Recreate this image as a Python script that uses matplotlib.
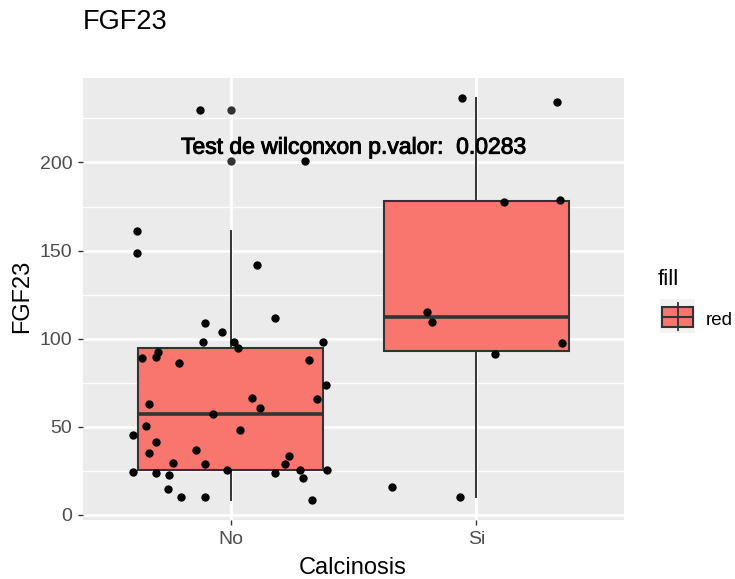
import numpy as np
import matplotlib
matplotlib.use("Agg")
import matplotlib.pyplot as plt
import matplotlib.patheffects as pe
from matplotlib.patches import Rectangle

plt.rcParams['font.family'] = ['Liberation Sans', 'DejaVu Sans']

# FGF23 values per calcinosis group, with horizontal jitter offsets of each point
groups = ["No", "Si"]
fgf23_no = [108.9, 111.5, 103.8, 98.3, 98.3, 94.9, 98.3, 88.8, 89.5, 92.4,
            86.1, 87.8, 73.9, 63.2, 66.6, 65.9, 60.6, 57.0, 50.7, 48.3,
            45.6, 41.1, 35.0, 36.9, 33.5, 29.0, 29.7, 29.0, 24.4, 23.6,
            22.9, 25.3, 23.6, 25.3, 21.0, 25.3, 14.8, 10.4, 10.4, 8.5,
            229.9, 200.6, 161.1, 148.6, 141.6]
jitter_no = [-0.105, 0.179, -0.034, -0.113, 0.015, 0.031, 0.374, -0.359, -0.305, -0.293,
             -0.209, 0.320, 0.387, -0.332, 0.087, 0.352, 0.121, -0.073, -0.344, 0.037,
             -0.396, -0.305, -0.332, -0.139, 0.237, 0.223, -0.234, -0.105, -0.396, -0.305,
             -0.249, -0.016, 0.180, 0.282, 0.294, 0.391, -0.254, -0.201, -0.105, 0.333,
             -0.125, 0.302, -0.382, -0.382, 0.107]
fgf23_si = [236.7, 234.1, 177.8, 178.6, 115.1, 109.7, 97.5, 91.5, 15.7, 10.4]
jitter_si = [-0.060, 0.328, 0.113, 0.340, -0.203, -0.182, 0.347, 0.075, -0.344, -0.067]

p_value = 0.0283
yticks = [0, 50, 100, 150, 200]

fill = "#F8766D"
dark = "#333333"

fig = plt.figure(figsize=(7.35, 5.79), dpi=100)
ax = fig.add_axes([83 / 735, 1 - 520 / 579, (624 - 83) / 735, (520 - 77.7) / 579])
ax.set_facecolor("#EBEBEB")
for s in ax.spines.values():
    s.set_visible(False)

# grid like ggplot: minor halfway between majors
for v in np.arange(25, 250, 50):
    ax.axhline(v, color="white", lw=1.0, zorder=0)
for v in yticks:
    ax.axhline(v, color="white", lw=2.0, zorder=0)
for i in range(len(groups)):
    ax.axvline(i + 1, color="white", lw=2.0, zorder=0)

bp = ax.boxplot([fgf23_no, fgf23_si], positions=[1, 2], widths=0.75, whis=1.5,
                patch_artist=True, showcaps=False,
                boxprops=dict(facecolor=fill, edgecolor=dark, linewidth=1.5),
                medianprops=dict(color=dark, linewidth=2.6),
                whiskerprops=dict(color=dark, linewidth=1.4),
                flierprops=dict(marker="o", markerfacecolor=dark, markeredgecolor="none",
                                markersize=6),
                zorder=2)

ax.scatter(1 + np.array(jitter_no), fgf23_no, s=36, color="black", linewidths=0, zorder=3)
ax.scatter(2 + np.array(jitter_si), fgf23_si, s=36, color="black", linewidths=0, zorder=3)

ax.text(1.5, 205, "Test de wilconxon p.valor:  %.4f" % p_value, ha="center", va="baseline",
        fontsize=16.5, color="black", zorder=4,
        path_effects=[pe.withStroke(linewidth=0.7, foreground="black")])

allv = fgf23_no + fgf23_si
lo, hi = min(allv), max(allv)
pad = 0.05 * (hi - lo)
ax.set_ylim(lo - pad, hi + pad)
ax.set_xlim(0.4, 2.6)

ax.set_xticks([1, 2])
ax.set_xticklabels(groups)
ax.set_yticks(yticks)
ax.tick_params(axis="both", colors=dark, length=3.6, width=1.0, labelsize=14,
               labelcolor="#4D4D4D", pad=4)

fig.text(83 / 735, 1 - 29.3 / 579, "FGF23", fontsize=19.5, va="baseline", ha="left")
fig.text(353 / 735, 1 - 574 / 579, "Calcinosis", fontsize=17, va="baseline", ha="center")
fig.text(22 / 735, 1 - 296 / 579, "FGF23", fontsize=17, va="center", ha="center", rotation=90)

# legend: single box key
fig.text(658 / 735, 1 - 285 / 579, "fill", fontsize=16, va="baseline", ha="left")
key = fig.add_axes([660 / 735, 1 - 333.3 / 579, 35 / 735, 34 / 579])
key.set_facecolor("#F2F2F2")
key.set_xlim(0, 1)
key.set_ylim(0, 1)
key.set_xticks([])
key.set_yticks([])
for s in key.spines.values():
    s.set_visible(False)
key.plot([0.5, 0.5], [0.1, 0.9], color=dark, lw=1.3)
key.add_patch(Rectangle((0.07, 0.2), 0.86, 0.56, facecolor=fill, edgecolor=dark, lw=1.5))
key.plot([0.07, 0.93], [0.48, 0.48], color=dark, lw=1.5)
fig.text(706 / 735, 1 - 325 / 579, "red", fontsize=13.5, va="baseline", ha="left")

fig.savefig("out.png", dpi=100)
